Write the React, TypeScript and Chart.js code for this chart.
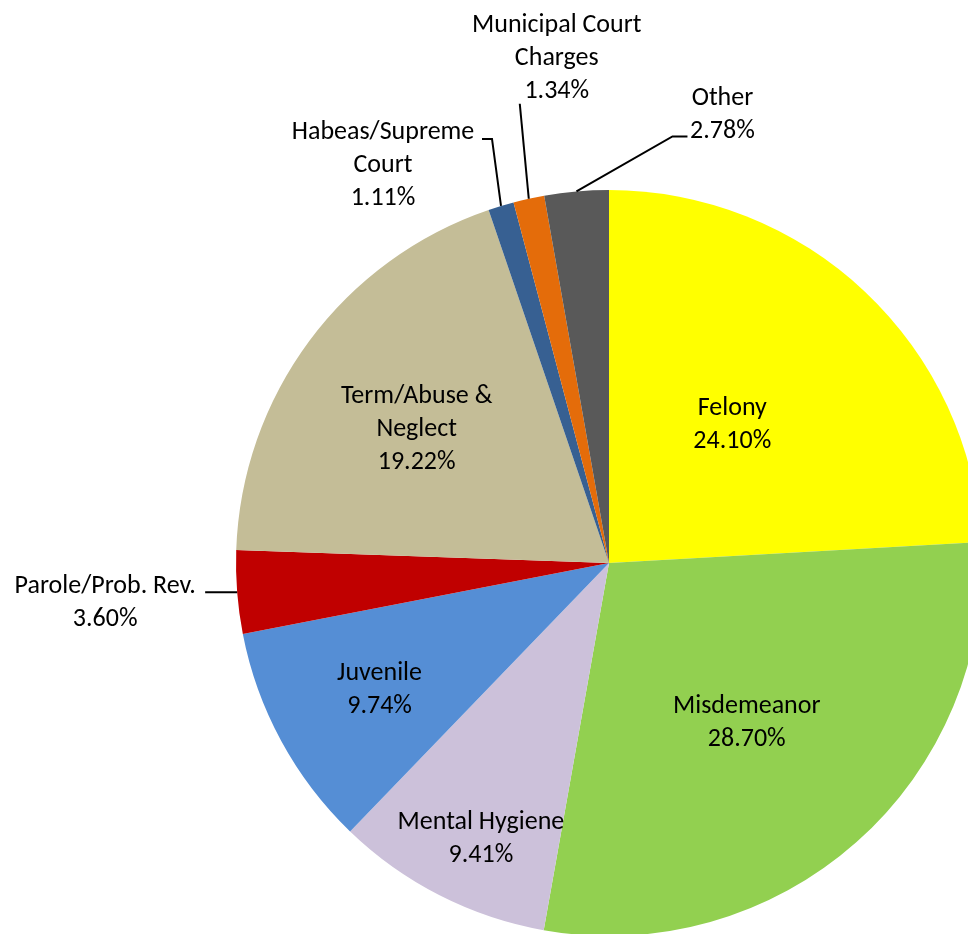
import React, { useEffect, useRef } from "react";
import { Chart, registerables } from "chart.js";

Chart.register(...registerables);

const categories = [
  "Felony",
  "Misdemeanor",
  "Mental Hygiene",
  "Juvenile",
  "Parole/Prob. Rev.",
  "Term/Abuse & Neglect",
  "Habeas/Supreme Court",
  "Municipal Court Charges",
  "Other",
];
const percentages = [24.1, 28.7, 9.41, 9.74, 3.6, 19.22, 1.11, 1.34, 2.78];
const colors = [
  "#FFFF00",
  "#92D050",
  "#CCC1DA",
  "#558ED5",
  "#C00000",
  "#C4BD97",
  "#376092",
  "#E46C0A",
  "#595959",
];
// label text lines (category name wrapped as in the original)
const labelLines = [
  ["Felony"],
  ["Misdemeanor"],
  ["Mental Hygiene"],
  ["Juvenile"],
  ["Parole/Prob. Rev."],
  ["Term/Abuse &", "Neglect"],
  ["Habeas/Supreme", "Court"],
  ["Municipal Court", "Charges"],
  ["Other"],
];

// label layout: inside labels at a fraction of the radius along the slice mid-angle
// (with a small angular nudge in degrees); outside labels use leader lines from the slice edge
type Layout =
  | { kind: "in"; r: number; a: number }
  | { kind: "out"; path: [number, number][]; text: [number, number] };
const labelLayout: Layout[] = [
  { kind: "in", r: 0.5, a: -2 },
  { kind: "in", r: 0.562, a: 0.5 },
  { kind: "in", r: 0.812, a: -2 },
  { kind: "in", r: 0.7, a: 0 },
  { kind: "out", path: [[-32, 0]], text: [-132, 9] },
  { kind: "in", r: 0.63, a: -1.5 },
  { kind: "out", path: [[-9, -67], [-19, -67]], text: [-118, -42] },
  { kind: "out", path: [[-9, -95]], text: [28, -142] },
  { kind: "out", path: [[96, -55], [111, -55]], text: [146, -78] },
];

const FONT = "26px Carlito, Lato, sans-serif";
const LINE_H = 33;

const labelPlugin = {
  id: "sliceLabels",
  afterDatasetsDraw(chart: any) {
    const ctx = chart.ctx as CanvasRenderingContext2D;
    const meta = chart.getDatasetMeta(0);
    ctx.save();
    ctx.font = FONT;
    ctx.fillStyle = "#000";
    ctx.textAlign = "center";
    ctx.textBaseline = "middle";
    meta.data.forEach((arc: any, i: number) => {
      const { x, y, startAngle, endAngle, outerRadius } = arc.getProps(
        ["x", "y", "startAngle", "endAngle", "outerRadius"],
        true
      );
      const mid = (startAngle + endAngle) / 2;
      const lines = [...labelLines[i], percentages[i].toFixed(2) + "%"];
      const lay = labelLayout[i];
      let cx: number, cy: number;
      if (lay.kind === "in") {
        const ang = mid + (lay.a * Math.PI) / 180;
        cx = x + Math.cos(ang) * outerRadius * lay.r;
        cy = y + Math.sin(ang) * outerRadius * lay.r + 2;
      } else {
        const ax = x + Math.cos(mid) * outerRadius;
        const ay = y + Math.sin(mid) * outerRadius;
        ctx.beginPath();
        ctx.strokeStyle = "#000";
        ctx.lineWidth = 2;
        ctx.moveTo(ax, ay);
        lay.path.forEach(([dx, dy]) => ctx.lineTo(ax + dx, ay + dy));
        ctx.stroke();
        cx = ax + lay.text[0];
        cy = ay + lay.text[1] + 2;
      }
      const top = cy - ((lines.length - 1) * LINE_H) / 2;
      lines.forEach((t, k) => ctx.fillText(t, cx, top + k * LINE_H));
    });
    ctx.restore();
  },
};

export default function App() {
  const ref = useRef<HTMLCanvasElement>(null);
  useEffect(() => {
    if (!ref.current) return;
    const chart = new Chart(ref.current, {
      type: "pie",
      data: {
        labels: categories,
        datasets: [
          {
            data: percentages,
            backgroundColor: colors,
            borderWidth: 0,
          },
        ],
      },
      options: {
        responsive: false,
        animation: false,
        layout: { padding: { left: 236, top: 190, right: 18, bottom: 24 } },
        plugins: { legend: { display: false }, tooltip: { enabled: false } },
      },
      plugins: [labelPlugin],
    });
    return () => chart.destroy();
  }, []);
  return (
    <div
      style={{
        position: "fixed",
        left: 0,
        top: 0,
        width: 968,
        height: 934,
        overflow: "hidden",
        background: "#fff",
      }}
    >
      <canvas ref={ref} width={1000} height={960} style={{ display: "block" }} />
    </div>
  );
}
